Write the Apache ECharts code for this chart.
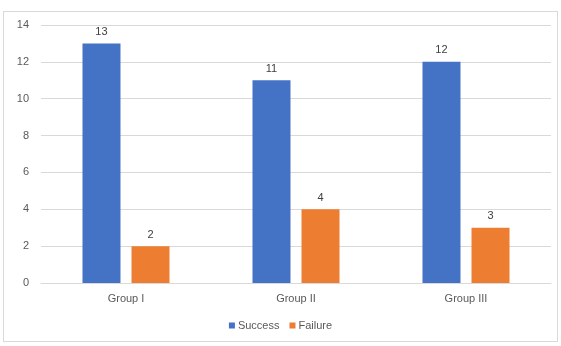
<!DOCTYPE html>
<html>
<head>
<meta charset="utf-8">
<script src="https://cdn.jsdelivr.net/npm/echarts@6/dist/echarts.min.js"></script>
<style>
  html, body { margin: 0; padding: 0; background: #fff; }
  #frame { position: absolute; left: 3px; top: 11px; width: 555px; height: 331px; border: 1px solid #d9d9d9; box-sizing: border-box; }
  #chart { width: 561px; height: 346px; position: absolute; left: 0; top: 0; }
</style>
</head>
<body>
<div id="frame"></div>
<div id="chart"></div>
<script>
// data
const groups = ['Group I', 'Group II', 'Group III'];
const success = [13, 11, 12];
const failure = [2, 4, 3];

const textColor = '#595959';
const font = 'Liberation Sans';

const chart = echarts.init(document.getElementById('chart'));
chart.setOption({
  animation: false,
  textStyle: { fontFamily: font },
  grid: { left: 41, right: 10, top: 25, bottom: 63 },
  legend: {
    bottom: 10,
    left: 'center',
    itemWidth: 6,
    itemHeight: 6,
    itemGap: 10,
    icon: 'rect',
    textStyle: { color: textColor, fontSize: 11, fontFamily: font, padding: [0, 0, 0, -2] },
    data: ['Success', 'Failure']
  },
  xAxis: {
    type: 'category',
    data: groups,
    axisLine: { lineStyle: { color: '#d9d9d9' } },
    axisTick: { show: false },
    axisLabel: { color: textColor, fontSize: 11, margin: 10 }
  },
  yAxis: {
    type: 'value',
    min: 0,
    max: 14,
    interval: 2,
    axisLine: { show: false },
    axisTick: { show: false },
    axisLabel: { color: textColor, fontSize: 11, margin: 12 },
    splitLine: { lineStyle: { color: '#d9d9d9' } }
  },
  series: [
    {
      name: 'Success',
      type: 'bar',
      data: success,
      barWidth: 38,
      barGap: '29%',
      itemStyle: { color: '#4472C4' },
      label: { show: true, position: 'top', color: '#404040', fontSize: 11, distance: 6 }
    },
    {
      name: 'Failure',
      type: 'bar',
      data: failure,
      barWidth: 38,
      itemStyle: { color: '#ED7D31' },
      label: { show: true, position: 'top', color: '#404040', fontSize: 11, distance: 6 }
    }
  ]
});
</script>
</body>
</html>
